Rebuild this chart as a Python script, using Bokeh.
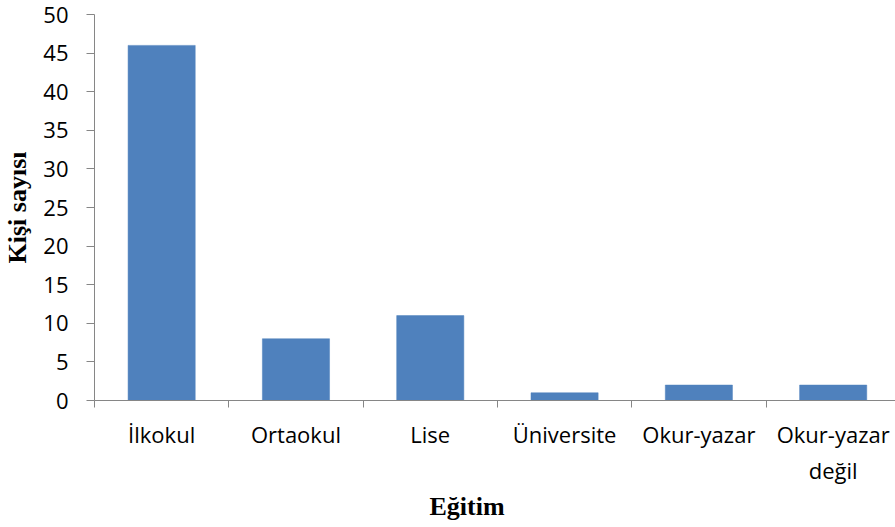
from bokeh.plotting import figure
from bokeh.models import Range1d, FixedTicker, Title
from bokeh.embed import file_html
from bokeh.resources import INLINE

categories = ["İlkokul", "Ortaokul", "Lise", "Üniversite", "Okur-yazar", "Okur-yazar\ndeğil"]
values = [46, 8, 11, 1, 2, 2]
y_ticks = [0, 5, 10, 15, 20, 25, 30, 35, 40, 45, 50]
x_title = "Eğitim"
y_title = "Kişi sayısı"

centers = [i + 0.5 for i in range(len(categories))]

W, H = 895, 527
p = figure(width=W, height=H, output_backend="svg", toolbar_location=None,
           x_range=Range1d(0, 5.964), y_range=Range1d(0, 50),
           min_border_left=94, min_border_right=0, min_border_top=14, min_border_bottom=127)
p.outline_line_color = None
p.xgrid.grid_line_color = None
p.ygrid.grid_line_color = None
p.background_fill_color = "white"
p.border_fill_color = "white"

p.vbar(x=centers, top=values, width=0.5, fill_color="#4F81BD", line_color="#4F81BD", line_width=0.5)

axis_color = "#868686"
# y axis
ya = p.yaxis[0]
ya.ticker = FixedTicker(ticks=y_ticks)
ya.axis_line_color = axis_color
ya.major_tick_line_color = axis_color
ya.major_tick_out = 8
ya.major_tick_in = 0
ya.minor_tick_line_color = None
ya.major_label_text_font = "Open Sans"
ya.major_label_text_font_size = "22px"
ya.major_label_text_color = "black"
ya.major_label_standoff = 18
ya.axis_label = y_title
ya.axis_label_text_font = "Liberation Serif"
ya.axis_label_text_font_style = "bold"
ya.axis_label_text_font_size = "26px"
ya.axis_label_text_color = "black"
ya.axis_label_standoff = 8

# x axis
xa = p.xaxis[0]
xa.ticker = FixedTicker(ticks=centers, minor_ticks=[0, 1, 2, 3, 4, 5, 6])
xa.major_label_overrides = {c: lab for c, lab in zip(centers, categories)}
xa.axis_line_color = axis_color
xa.major_tick_line_color = None
xa.major_tick_out = 0
xa.major_tick_in = 0
xa.minor_tick_line_color = axis_color
xa.minor_tick_out = 7
xa.minor_tick_in = 0
xa.major_label_text_font = "Open Sans"
xa.major_label_text_font_size = "22px"
xa.major_label_text_color = "black"
xa.major_label_standoff = 11

# x axis title, placed off-centre like the reference
t = Title(text=x_title, align="left", offset=335, text_font="Liberation Serif",
          text_font_style="bold", text_font_size="26px", text_color="black", standoff=5)
p.add_layout(t, "below")

open("out.html", "w").write(file_html(p, INLINE))
